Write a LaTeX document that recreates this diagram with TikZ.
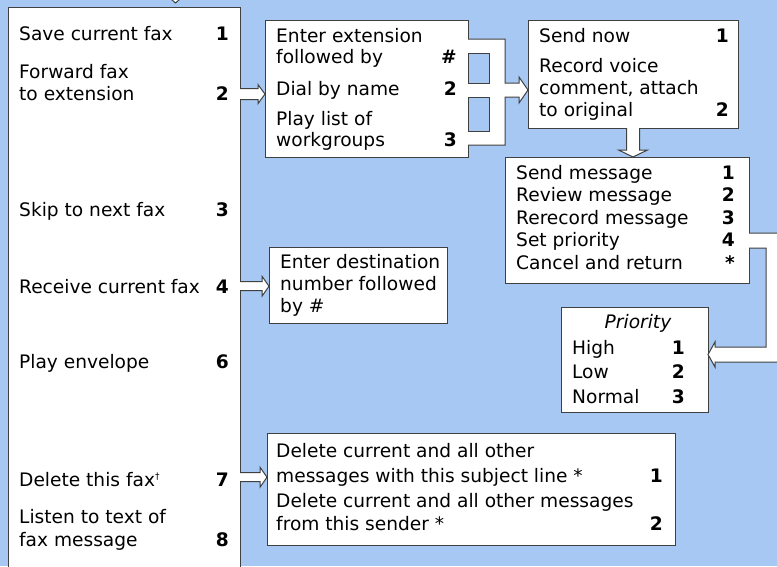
\documentclass[tikz,border=0pt]{standalone}
\usepackage{fontspec}
\setmainfont{DejaVu Sans}
\usetikzlibrary{calc}
\definecolor{bgblue}{RGB}{166,200,242}
\definecolor{edge}{RGB}{64,64,64}

\begin{document}
\begin{tikzpicture}[x=1pt, y=-1pt,
  box/.style={draw=edge, fill=white, line width=1pt, rectangle, anchor=north west, inner sep=0, outer sep=0},
  item/.style={anchor=base west, inner sep=0, font=\fontsize{18.6}{22}\selectfont},
  key/.style={anchor=base east, inner sep=0, font=\fontsize{18.6}{22}\selectfont\bfseries},
  blockarrow/.style={draw=edge, fill=white, line width=1pt, line join=miter},
  hole/.style={draw=edge, fill=bgblue, line width=1pt}]
\useasboundingbox (0,0) rectangle (777,566);
\fill[bgblue] (0,0) rectangle (777,566);

% boxes
\node[box, minimum width=232, minimum height=600] (main) at (8,7) {};
\node[box, minimum width=203, minimum height=137] (ext) at (265,20) {};
\node[box, minimum width=210, minimum height=108] (send) at (528,20) {};
\node[box, minimum width=244, minimum height=126] (msg) at (505,157) {};
\node[box, minimum width=147, minimum height=105] (prio) at (561,307) {};
\node[box, minimum width=178, minimum height=76] (dest) at (269,247) {};
\node[box, minimum width=408, minimum height=112] (del) at (267,433) {};

% main menu
\node[item] (save) at (19,40) {Save current fax};
\node[key] (savek) at (229,40) {1};
\node[item] (fwd1) at (19,78) {Forward fax};
\node[item] (fwd2) at (19,100) {to extension};
\node[key] (fwdk) at (229,100) {2};
\node[item] (skip) at (19,216) {Skip to next fax};
\node[key] (skipk) at (229,216) {3};
\node[item] (recv) at (19,293) {Receive current fax};
\node[key] (recvk) at (229,293) {4};
\node[item] (env) at (19,368) {Play envelope};
\node[key] (envk) at (229,368) {6};
\node[item] (delf) at (19,486) {Delete this fax\raisebox{7pt}{\fontsize{9}{9}\selectfont\textdagger}};
\node[key] (delfk) at (229,486) {7};
\node[item] (lis1) at (19,523) {Listen to text of};
\node[item] (lis2) at (19,546) {fax message};
\node[key] (lisk) at (229,546) {8};

% forward to extension
\node[item] (ext1) at (276,42) {Enter extension};
\node[item] (ext2) at (276,63) {followed by};
\node[key] (hashk) at (457,63) {\#};
\node[item] (dial) at (276,95) {Dial by name};
\node[key] (dialk) at (457,95) {2};
\node[item] (list1) at (276,125) {Play list of};
\node[item] (list2) at (276,146) {workgroups};
\node[key] (listk) at (457,146) {3};

% send
\node[item] (now) at (539,42) {Send now};
\node[key] (nowk) at (729,42) {1};
\node[item] (rec1) at (539,72) {Record voice};
\node[item] (rec2) at (539,94) {comment, attach};
\node[item] (rec3) at (539,116) {to original};
\node[key] (reck) at (729,116) {2};

% message
\node[item] (sm) at (516,179) {Send message};
\node[key] (smk) at (735,179) {1};
\node[item] (rm) at (516,201.5) {Review message};
\node[key] (rmk) at (735,201.5) {2};
\node[item] (rr) at (516,224) {Rerecord message};
\node[key] (rrk) at (735,224) {3};
\node[item] (sp) at (516,246.5) {Set priority};
\node[key] (spk) at (735,246.5) {4};
\node[item] (cr) at (516,269) {Cancel and return};
\node[key] (crk) at (735,269) {*};

% priority
\node[item, anchor=base, font=\fontsize{18.6}{22}\selectfont\itshape] (ptitle) at (638,328) {Priority};
\node[item] (high) at (572,354) {High};
\node[key] (highk) at (685,354) {1};
\node[item] (low) at (572,378) {Low};
\node[key] (lowk) at (685,378) {2};
\node[item] (norm) at (572,403) {Normal};
\node[key] (normk) at (685,403) {3};

% destination
\node[item] (dst1) at (280,268) {Enter destination};
\node[item] (dst2) at (280,290) {number followed};
\node[item] (dst3) at (280,312) {by \#};

% delete
\node[item] (ds1) at (276,457) {Delete current and all other};
\node[item] (ds2) at (276,482) {messages with this subject line *};
\node[key] (dsk1) at (663,482) {1};
\node[item] (ds3) at (276,507) {Delete current and all other messages};
\node[item] (ds4) at (276,530) {from this sender *};
\node[key] (dsk2) at (663,530) {2};

% connectors
\coordinate (top) at (175.5,-20);
\draw[blockarrow] (top) ++(-4,0) -- ++(0,14) -- ++(-6,0) -- ++(10,9) -- ++(10,-9) -- ++(-6,0) -- ++(0,-14) -- cycle;
\draw[blockarrow] ($(main.east |- fwdk)+(0,-4.5)$) -- ++(18,0) -- ++(0,-4) -- ++(7,9.5) -- ++(-7,9.5) -- ++(0,-4) -- ++(-18,0);
\draw[blockarrow] ($(main.east |- recvk)+(0,-4.5)$) -- ++(22,0) -- ++(0,-5.5) -- ++(7,10) -- ++(-7,10) -- ++(0,-5.5) -- ++(-22,0);
\draw[blockarrow] ($(main.east |- delfk)+(0,-6.5)$) -- ++(20,0) -- ++(0,-5.5) -- ++(7,10) -- ++(-7,10) -- ++(0,-5.5) -- ++(-20,0);
\draw[blockarrow] ($(ext.north east)+(0,19)$) -- ++(37,0) -- ++(0,44) -- ++(14,0) -- ++(0,-6) -- ++(9,13) -- ++(-9,13) -- ++(0,-6) -- ++(-14,0) -- ++(0,48) -- ++(-37,0);
\draw[hole] ($(ext.north east)+(0,33)$) rectangle ++(21,30);
\draw[hole] ($(ext.north east)+(0,77)$) rectangle ++(21,34);
\draw[blockarrow] ($(send.south)+(-6.5,0)$) -- ++(0,22) -- ++(-8,0) -- ++(14.5,7) -- ++(14.5,-7) -- ++(-8,0) -- ++(0,-22);
\draw[blockarrow] ($(msg.north east)+(0,76)$) -- ++(41,0) -- ++(0,129) -- ++(-75,0) -- ++(0,5) -- ++(-7,-12.5) -- ++(7,-12.5) -- ++(0,5) -- ++(51,0) -- ++(0,-99) -- ++(-17,0);
\end{tikzpicture}
\end{document}
